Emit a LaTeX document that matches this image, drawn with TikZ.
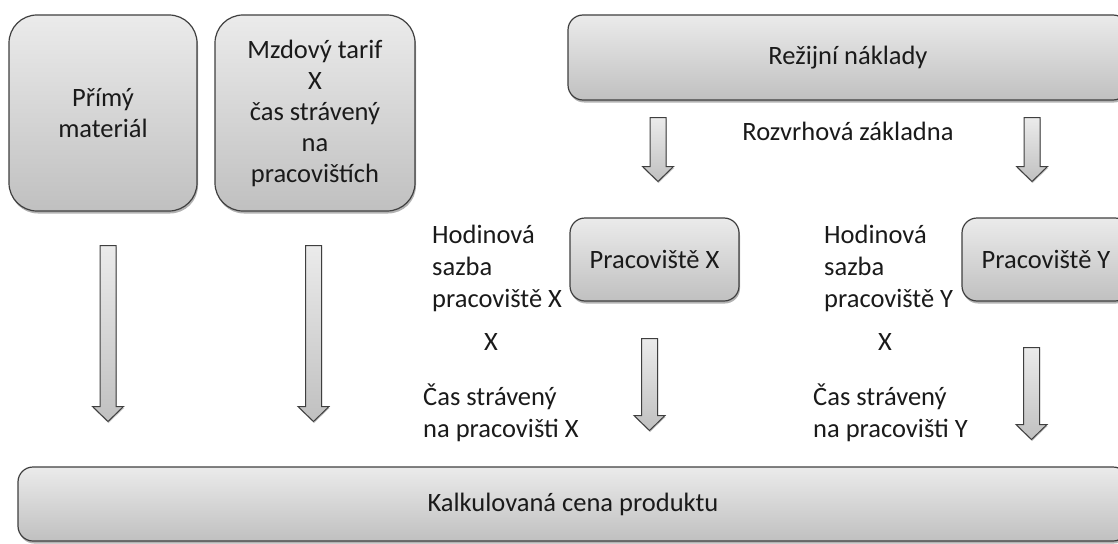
\documentclass[tikz,border=0pt]{standalone}
\usepackage{fontspec}
\setmainfont{Carlito}
\usetikzlibrary{shapes.arrows,shadows}
\definecolor{boxline}{HTML}{3F3F3F}
\definecolor{boxtop}{HTML}{EBEBEB}
\definecolor{boxbot}{HTML}{C0C0C0}
\definecolor{txt}{HTML}{1A1A1A}
\tikzset{
  box/.style={draw=boxline, line width=1.2pt, top color=boxtop, bottom color=boxbot,
    rounded corners=15pt, inner sep=0pt, align=center, text=txt,
    font=\fontsize{26.5}{31}\selectfont,
    drop shadow={shadow xshift=1pt, shadow yshift=-2.5pt, opacity=0.3, fill=black}},
  bigbox/.style={box, rounded corners=28pt},
  lbl/.style={inner sep=0pt, align=left, text=txt, font=\fontsize{26.5}{32}\selectfont},
  blockarrow/.style={single arrow, shape border rotate=270, draw=boxline, line width=1pt,
    top color=boxtop, bottom color=boxbot, minimum width=30pt,
    single arrow head extend=7.5pt, single arrow tip angle=92, inner sep=7.5pt, anchor=tail,
    drop shadow={shadow xshift=0.5pt, shadow yshift=-1.5pt, opacity=0.25, fill=black}}
}
\begin{document}
\begin{tikzpicture}[x=1pt,y=-1pt]
\useasboundingbox (0,0) rectangle (1118,543);
\clip (0,0) rectangle (1118,543);
% boxes
\node[bigbox, minimum width=188pt, minimum height=196pt] (mat) at (103,113) {Přímý\\materiál};
\node[bigbox, minimum width=200pt, minimum height=196pt] (mzda) at (315,113) {Mzdový tarif\\X\\čas strávený\\na\\pracovištích};
\node[box, minimum width=560pt, minimum height=85pt] (rez) at (848,57.5) {Režijní náklady};
\node[box, minimum width=169pt, minimum height=83pt] (px) at (654.5,259.5) {Pracoviště X};
\node[box, minimum width=168pt, minimum height=83pt] (py) at (1046,259.5) {Pracoviště Y};
\node[box, minimum width=1110pt, minimum height=74pt] (cena) at (573,504) {Kalkulovaná cena produktu};
% labels
\node[lbl] (rz) at (848,131) {Rozvrhová základna};
\node[lbl, anchor=west] (hx) at (432,268) {Hodinová\\sazba\\pracoviště X};
\node[lbl] (xx) at (491,342) {X};
\node[lbl, anchor=west] (cx) at (423,413) {Čas strávený\\na pracovišti X};
\node[lbl, anchor=west] (hy) at (824,268) {Hodinová\\sazba\\pracoviště Y};
\node[lbl] (xy) at (885,342) {X};
\node[lbl, anchor=west] (cy) at (813,413) {Čas strávený\\na pracovišti Y};
% block arrows
\node[blockarrow, minimum height=176pt] (a1) at (108,245) {};
\node[blockarrow, minimum height=176pt] (a2) at (313.5,245) {};
\node[blockarrow, minimum height=64pt] (a3) at (658,117) {};
\node[blockarrow, minimum height=64pt] (a4) at (1032,117) {};
\node[blockarrow, minimum height=92pt] (a5) at (649.5,338) {};
\node[blockarrow, minimum height=92pt] (a6) at (1031.5,347) {};
\end{tikzpicture}
\end{document}
